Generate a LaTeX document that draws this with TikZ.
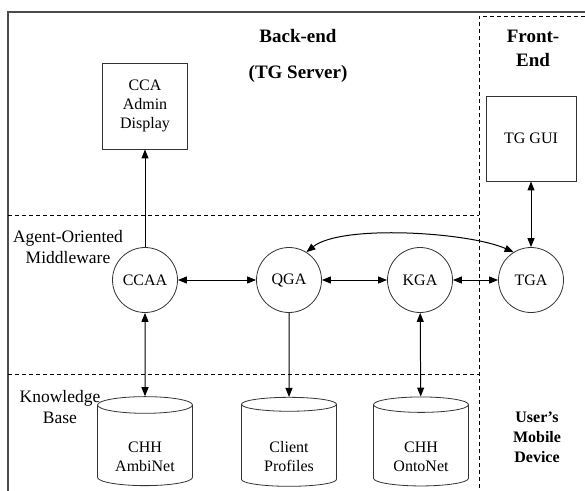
\documentclass[tikz,border=0pt]{standalone}
\usepackage{fontspec}
\setmainfont{Liberation Serif}
\usetikzlibrary{shapes.geometric, arrows.meta, positioning}

\begin{document}
\begin{tikzpicture}[x=1pt, y=-1pt,
    every node/.style={font=\fontsize{16}{19}\selectfont},
    dispbox/.style={rectangle,draw=black!80,line width=0.9pt,
        align=center,inner sep=0pt},
    agent/.style={circle,draw=black!80,line width=0.8pt,
        minimum size=65pt,inner sep=0pt},
    kbase/.style={cylinder,shape border rotate=90,draw=black!80,
        line width=0.8pt,aspect=0.28,minimum width=95pt,
        minimum height=89pt,align=center,inner sep=0pt,
        text height=54pt,text depth=3pt},
    layer/.style={align=center,font=\fontsize{17.5}{21}\selectfont},
    heading/.style={align=center,font=\bfseries\fontsize{19}{24}\selectfont},
    sep/.style={black,line width=0.7pt,dash pattern=on 4pt off 3pt},
    arrow/.style={-{Triangle[length=9pt,width=7pt]},line width=1pt},
    dblarrow/.style={{Triangle[length=9pt,width=7pt]}-{Triangle[length=9pt,width=7pt]},
        line width=1pt}
]
\useasboundingbox (0,0) rectangle (585,490);
\clip (0,0) rectangle (585,490);

% frame and layer separators
\draw[line width=1.3pt, black!70] (8,500) -- (8,12) -- (590,12);
\draw[sep] (8,215) -- (479,215);
\draw[sep] (8,374) -- (479,374);
\draw[sep] (479,495) -- (479,16) -- (590,16);

\node[heading] (backend) at (298,36) {Back-end};
\node[heading] (tgserver) at (298,74) {(TG Server)};
\node[heading] (frontend) at (533,48) {Front-\\End};
\node[heading, font=\bfseries\fontsize{16}{20}\selectfont] (mobile)
    at (537,437) {User's\\Mobile\\Device};

\node[layer] (mwlabel) at (68,247) {Agent-Oriented\\Middleware};
\node[layer] (kblabel) at (60,407) {Knowledge\\Base};

% displays
\node[dispbox, minimum width=85pt, minimum height=86pt] (ccadisp)
    at (145,106) {CCA\\Admin\\Display};
\node[dispbox, minimum width=90pt, minimum height=85pt] (tggui)
    at (531,138.5) {TG GUI};

% agents
\node[agent] (ccaa) at (145,280) {CCAA};
\node[agent] (qga) at (289,280) {QGA};
\node[agent] (kga) at (420,280) {KGA};
\node[agent] (tga) at (531,280) {TGA};

% knowledge base
\node[kbase] (ambinet) at (145,445.5) {CHH\\AmbiNet};
\node[kbase] (profiles) at (289,445.5) {Client\\Profiles};
\node[kbase] (ontonet) at (421,445.5) {CHH\\OntoNet};

\draw[arrow] (ccaa) -- (ccadisp);
\draw[dblarrow] (tggui) -- (tga);
\draw[dblarrow] (ccaa) -- (qga);
\draw[dblarrow] (qga) -- (kga);
\draw[dblarrow] (kga) -- (tga);
\draw[dblarrow] (qga.58) .. controls +(35,-28) and +(-45,-20) .. (tga.122);
\draw[dblarrow] (ccaa) -- (ambinet);
\draw[arrow] (qga) -- (profiles);
\draw[dblarrow] (kga) -- (ontonet);
\end{tikzpicture}
\end{document}
